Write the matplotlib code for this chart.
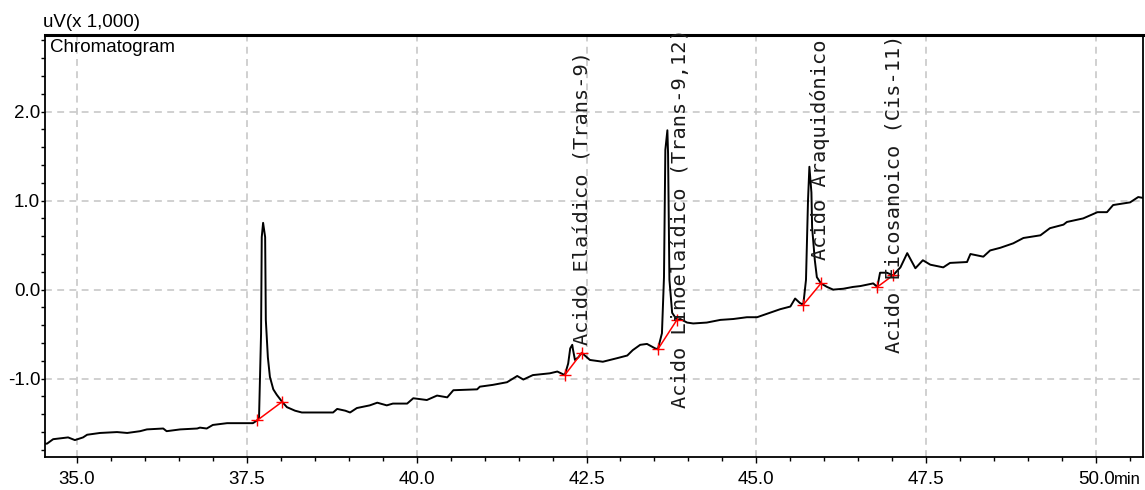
import matplotlib
matplotlib.use("Agg")
import matplotlib.pyplot as plt
import matplotlib.transforms as mtransforms
from matplotlib.ticker import MultipleLocator, FixedLocator

# Chromatogram trace (min, uV x 1000)
TIME = [34.53, 34.56, 34.65, 34.87, 34.97, 35.09, 35.15, 35.34, 35.59, 35.74,
        35.93, 36.03, 36.27, 36.32, 36.52, 36.77, 36.81, 36.91, 37.00, 37.21,
        37.59, 37.65, 37.68, 37.71, 37.72, 37.74, 37.77, 37.78, 37.81, 37.84,
        37.89, 37.94, 38.02, 38.09, 38.21, 38.31, 38.77, 38.83, 38.95, 39.02,
        39.12, 39.31, 39.42, 39.56, 39.65, 39.86, 39.95, 40.15, 40.30, 40.45,
        40.54, 40.89, 40.93, 41.12, 41.33, 41.48, 41.57, 41.71, 41.96, 42.07,
        42.18, 42.23, 42.26, 42.29, 42.30, 42.33, 42.38, 42.43, 42.55, 42.74,
        42.95, 43.10, 43.18, 43.29, 43.39, 43.51, 43.55, 43.61, 43.64, 43.66,
        43.69, 43.70, 43.72, 43.76, 43.83, 43.88, 43.98, 44.07, 44.27, 44.47,
        44.66, 44.86, 45.01, 45.20, 45.35, 45.50, 45.57, 45.64, 45.69, 45.73,
        45.76, 45.78, 45.81, 45.82, 45.86, 45.89, 45.95, 46.04, 46.13, 46.28,
        46.42, 46.53, 46.72, 46.78, 46.82, 46.92, 47.01, 47.12, 47.22, 47.34,
        47.45, 47.56, 47.75, 47.85, 48.10, 48.15, 48.34, 48.44, 48.59, 48.78,
        48.93, 49.18, 49.32, 49.52, 49.57, 49.81, 50.02, 50.16, 50.25, 50.50,
        50.62, 50.69]
SIGNAL = [-1.73, -1.73, -1.68, -1.66, -1.69, -1.66, -1.63, -1.61, -1.60, -1.61,
          -1.59, -1.57, -1.56, -1.59, -1.57, -1.56, -1.55, -1.56, -1.52, -1.50,
          -1.50, -1.47, -1.44, -0.49, 0.59, 0.75, 0.59, -0.34, -0.76, -0.98,
          -1.12, -1.18, -1.26, -1.32, -1.36, -1.38, -1.38, -1.34, -1.36, -1.38,
          -1.33, -1.30, -1.27, -1.30, -1.28, -1.28, -1.22, -1.24, -1.19, -1.21,
          -1.13, -1.12, -1.09, -1.07, -1.04, -0.97, -1.01, -0.96, -0.94, -0.92,
          -0.96, -0.83, -0.66, -0.62, -0.67, -0.79, -0.76, -0.71, -0.79, -0.81,
          -0.77, -0.74, -0.68, -0.62, -0.61, -0.66, -0.67, -0.49, 0.14, 1.57,
          1.79, 1.53, 0.11, -0.26, -0.34, -0.33, -0.37, -0.38, -0.37, -0.34,
          -0.33, -0.31, -0.31, -0.26, -0.22, -0.19, -0.10, -0.15, -0.17, 0.11,
          1.01, 1.38, 1.09, 0.70, 0.33, 0.14, 0.07, 0.03, 0.00, 0.01,
          0.03, 0.04, 0.07, 0.03, 0.19, 0.19, 0.16, 0.25, 0.41, 0.24,
          0.33, 0.28, 0.25, 0.30, 0.31, 0.40, 0.37, 0.44, 0.47, 0.52,
          0.58, 0.61, 0.69, 0.73, 0.76, 0.80, 0.87, 0.87, 0.95, 0.98,
          1.04, 1.03]

# integration baselines (start / end of each peak)
PEAK_START_T = [37.65, 42.18, 43.55, 45.69, 46.78]
PEAK_START_Y = [-1.47, -0.96, -0.67, -0.17, 0.03]
PEAK_END_T = [38.02, 42.43, 43.83, 45.95, 47.01]
PEAK_END_Y = [-1.26, -0.71, -0.34, 0.07, 0.16]

# peak names (x position, bottom of label)
PEAK_NAMES = ["Acido Elaídico (Trans-9)",
              "Acido Linoelaídico (Trans-9,12)",
              "Acido Araquidónico",
              "Acido Eicosanoico (Cis-11)"]
NAME_T = [42.45, 43.88, 45.94, 47.02]
NAME_Y = [-0.62, -1.33, 0.33, -0.71]

X_TICKS = [35.0, 37.5, 40.0, 42.5, 45.0, 47.5, 50.0]
X_LABELS = ["35.0", "37.5", "40.0", "42.5", "45.0", "47.5", "50.0"]
Y_TICKS = [-1.0, 0.0, 1.0, 2.0]
Y_LABELS = ["-1.0", "0.0", "1.0", "2.0"]

SANS = ["Liberation Sans Narrow", "Liberation Sans", "DejaVu Sans"]
FS = 13.5

fig = plt.figure(figsize=(11.45, 4.9), dpi=100)
ax = fig.add_axes([45 / 1145, 33 / 490, 1098 / 1145, 422 / 490])

ax.plot(TIME, SIGNAL, color="black", linewidth=1.4, zorder=3)

for t0, y0, t1, y1 in zip(PEAK_START_T, PEAK_START_Y, PEAK_END_T, PEAK_END_Y):
    ax.plot([t0, t1], [y0, y1], color="red", linewidth=1.1, zorder=4)
    ax.plot([t0, t1], [y0, y1], linestyle="none", marker="+", markersize=8,
            markeredgewidth=1.0, color="red", zorder=4)

for name, t, y in zip(PEAK_NAMES, NAME_T, NAME_Y):
    ax.text(t, y, name, rotation=90, ha="center", va="bottom",
            family="DejaVu Sans Mono", fontsize=14.6, color="#1a1a1a", zorder=5)

ax.set_xlim(34.53, 50.69)
ax.set_ylim(-1.88, 2.86)

ax.xaxis.set_major_locator(FixedLocator(X_TICKS))
ax.set_xticklabels(X_LABELS, family=SANS, fontsize=FS)
ax.xaxis.set_minor_locator(MultipleLocator(0.5))
ax.yaxis.set_major_locator(FixedLocator(Y_TICKS))
ax.set_yticklabels(Y_LABELS, family=SANS, fontsize=FS)
ax.yaxis.set_minor_locator(MultipleLocator(0.2))

ax.tick_params(axis="x", which="major", direction="out", length=4, width=1.0,
               pad=6)
ax.tick_params(axis="y", which="major", direction="out", length=3, width=1.0,
               pad=0.5)
ax.tick_params(which="minor", direction="out", length=3, width=1.0)

ax.grid(True, which="major", color="#c4c4c4", linewidth=1.1,
        linestyle=(0, (4.5, 3.5)))

for side in ["left", "bottom", "right"]:
    ax.spines[side].set_linewidth(1.3)
ax.spines["top"].set_linewidth(2.2)

# unit next to the last x tick label, same height as the tick labels
trans = mtransforms.blended_transform_factory(ax.transData, ax.transAxes)
trans = mtransforms.offset_copy(trans, fig=fig, y=-10.5, units="points")
ax.text(50.255, 0, "min", transform=trans, ha="left", va="top",
        family=SANS, fontsize=12)

ax.text(0.005, 0.99, "Chromatogram", transform=ax.transAxes, ha="left",
        va="top", family=SANS, fontsize=FS)
fig.text(43 / 1145, 1 - 31 / 490, "uV(x 1,000)", ha="left", va="bottom",
         family=SANS, fontsize=FS)

fig.savefig("out.png", dpi=100)
